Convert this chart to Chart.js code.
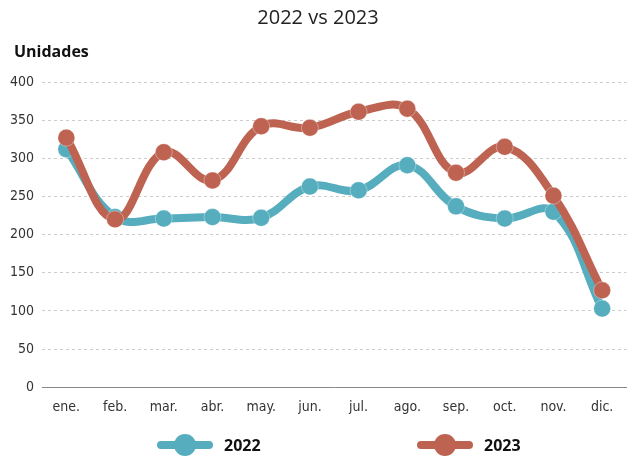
<!DOCTYPE html>
<html>
<head>
<meta charset="utf-8">
<script src="https://cdn.jsdelivr.net/npm/chart.js@4"></script>
<style>
  html, body { margin: 0; padding: 0; background: #fff; }
  #wrap { position: relative; width: 636px; height: 456px; }
  .legend-item { position: absolute; top: 434px; display: flex; align-items: center; font: bold 16px "Open Sans", sans-serif; color: #111; }
  .swatch { position: relative; width: 56px; height: 22px; margin-right: 11px; }
  .swatch .bar { position: absolute; left: 0; right: 0; top: 7px; height: 8px; border-radius: 4px; }
  .swatch .dot { position: absolute; left: 17px; top: 0; width: 22px; height: 22px; border-radius: 50%; }
</style>
</head>
<body>
<div id="wrap">
  <canvas id="chart" width="636" height="456"></canvas>
  <div class="legend-item" style="left:157px">
    <span class="swatch"><span class="bar" style="background:#55adbe"></span><span class="dot" style="background:#55adbe"></span></span>2022
  </div>
  <div class="legend-item" style="left:417px">
    <span class="swatch"><span class="bar" style="background:#be6352"></span><span class="dot" style="background:#be6352"></span></span>2023
  </div>
</div>
<script>
// Datos
const meses = ['ene.', 'feb.', 'mar.', 'abr.', 'may.', 'jun.', 'jul.', 'ago.', 'sep.', 'oct.', 'nov.', 'dic.'];
const valores2022 = [312, 223, 221, 223, 222, 263, 258, 291, 237, 221, 230, 103];
const valores2023 = [327, 220, 308, 271, 342, 340, 361, 365, 281, 315, 251, 127];
const yTicks = [0, 50, 100, 150, 200, 250, 300, 350, 400];

const tealColor = '#55adbe';
const redColor = '#be6352';
const tickFont = { family: '"DejaVu Sans Condensed", sans-serif', size: 14 };

// "Unidades" label above the y axis
const unitLabel = {
    id: 'unitLabel',
    afterDraw(chart) {
        const ctx = chart.ctx;
        ctx.save();
        ctx.font = 'bold 16px "Open Sans", sans-serif';
        ctx.fillStyle = '#111';
        ctx.textAlign = 'left';
        ctx.textBaseline = 'middle';
        ctx.fillText('Unidades', 14, 52);
        ctx.restore();
    }
};

new Chart(document.getElementById('chart').getContext('2d'), {
    type: 'line',
    data: {
        labels: meses,
        datasets: [{
            label: '2022',
            data: valores2022,
            borderColor: tealColor,
            backgroundColor: tealColor,
            pointBackgroundColor: tealColor,
            pointBorderColor: 'rgba(255, 255, 255, 0.35)',
            pointBorderWidth: 1,
            pointRadius: 8.5,
            borderWidth: 8,
            tension: 0.4,
            order: 1
        }, {
            label: '2023',
            data: valores2023,
            borderColor: redColor,
            backgroundColor: redColor,
            pointBackgroundColor: redColor,
            pointBorderColor: 'rgba(255, 255, 255, 0.35)',
            pointBorderWidth: 1,
            pointRadius: 8.5,
            borderWidth: 8,
            tension: 0.4,
            order: 0
        }]
    },
    plugins: [unitLabel],
    options: {
        responsive: false,
        animation: false,
        layout: { padding: { left: 0, right: 0, top: 6, bottom: 36 } },
        plugins: {
            legend: { display: false },
            tooltip: { enabled: false },
            title: {
                display: true,
                text: '2022 vs 2023',
                color: '#222',
                font: { family: '"Open Sans", sans-serif', size: 20, weight: 'normal' },
                padding: { top: 0, bottom: 52 }
            }
        },
        scales: {
            x: {
                offset: true,
                grid: { display: false },
                border: { display: true, color: '#888', width: 1 },
                ticks: { color: '#333', font: tickFont, padding: 4 }
            },
            y: {
                min: 0,
                max: 400,
                afterBuildTicks: axis => { axis.ticks = yTicks.map(v => ({ value: v })); },
                afterFit: axis => { axis.width = 42; },
                grid: { color: '#ccc', drawTicks: false },
                border: { display: false, dash: [3, 3] },
                ticks: { color: '#333', font: tickFont, padding: 8 }
            }
        }
    }
});
</script>
</body>
</html>
